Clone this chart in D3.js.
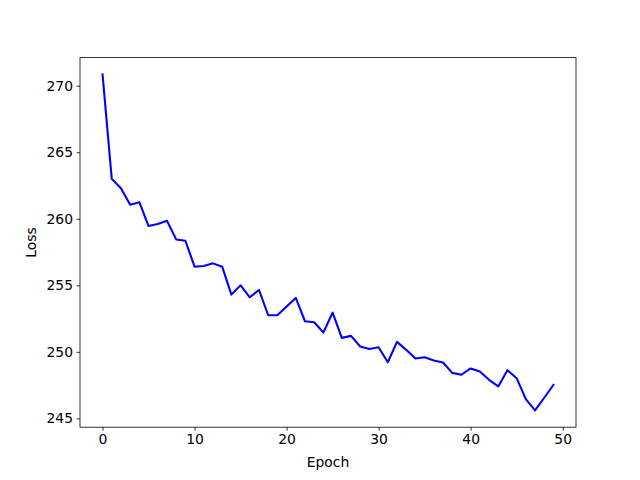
<!DOCTYPE html>
<html>
<head>
<meta charset="utf-8">
<script src="https://cdn.jsdelivr.net/npm/d3@7"></script>
<style>
  body { margin: 0; background: #fff; }
  text { font-family: "DejaVu Sans", sans-serif; }
</style>
</head>
<body>
<div id="chart"></div>
<script>
// loss per epoch
let epochs = d3.range(50);
let loss = [
    270.85, 263.0, 262.3, 261.05, 261.25, 259.45, 259.6, 259.85, 258.45, 258.35,
    256.4, 256.45, 256.65, 256.4, 254.3, 255.0, 254.1, 254.65, 252.75, 252.75,
    253.4, 254.05, 252.3, 252.22, 251.45, 252.95, 251.05, 251.2, 250.4, 250.22,
    250.35, 249.22, 250.75, 250.15, 249.5, 249.6, 249.35, 249.2, 248.42, 248.28,
    248.75, 248.52, 247.9, 247.4, 248.62, 248.02, 246.45, 245.6, 246.55, 247.52
];
let xTicks = [0, 10, 20, 30, 40, 50];
let yTicks = [245, 250, 255, 260, 265, 270];

let width = 640, height = 480;
let margin = {top: 57.6, right: 64, bottom: 52.8, left: 80};

let svg = d3.select("#chart").append("svg")
    .attr("width", width)
    .attr("height", height);

// matplotlib style 5% padding around data
let xPad = (d3.max(epochs) - d3.min(epochs)) * 0.05;
let yPad = (d3.max(loss) - d3.min(loss)) * 0.05;

let xScale = d3.scaleLinear()
    .domain([d3.min(epochs) - xPad, d3.max(epochs) + xPad])
    .range([margin.left, width - margin.right]);
let yScale = d3.scaleLinear()
    .domain([d3.min(loss) - yPad, d3.max(loss) + yPad])
    .range([height - margin.bottom, margin.top]);

let xAxis = d3.axisBottom(xScale).tickValues(xTicks).tickSize(3.5).tickPadding(3.5).tickFormat(d3.format("d"));
let yAxis = d3.axisLeft(yScale).tickValues(yTicks).tickSize(3.5).tickPadding(3.5).tickFormat(d3.format("d"));

let xAx = svg.append("g")
    .attr("transform", "translate(0," + (height - margin.bottom) + ")")
    .call(xAxis);
let yAx = svg.append("g")
    .attr("transform", "translate(" + margin.left + ",0)")
    .call(yAxis);

[xAx, yAx].forEach(g => {
    g.select(".domain").remove();
    g.selectAll(".tick line").attr("stroke", "#000").attr("stroke-width", 0.8);
    g.selectAll(".tick text").attr("fill", "#000").style("font-size", "13.9px")
        .style("font-family", "'DejaVu Sans', sans-serif");
});

// frame
svg.append("rect")
    .attr("x", margin.left)
    .attr("y", margin.top)
    .attr("width", width - margin.left - margin.right)
    .attr("height", height - margin.top - margin.bottom)
    .attr("fill", "none")
    .attr("stroke", "#000")
    .attr("stroke-width", 0.8);

let line = d3.line()
    .x((d, i) => xScale(epochs[i]))
    .y(d => yScale(d));

svg.append("path")
    .datum(loss)
    .attr("d", line)
    .attr("fill", "none")
    .attr("stroke", "#0000ff")
    .attr("stroke-width", 2.08)
    .attr("stroke-linejoin", "round")
    .attr("stroke-linecap", "square");

svg.append("text")
    .text("Epoch")
    .attr("x", (margin.left + width - margin.right) / 2)
    .attr("y", 467)
    .style("text-anchor", "middle")
    .style("font-size", "13.9px");

svg.append("text")
    .text("Loss")
    .style("text-anchor", "middle")
    .style("font-size", "13.9px")
    .attr("transform", "translate(" + 36 + "," + ((margin.top + height - margin.bottom) / 2) + ") rotate(-90)");
</script>
</body>
</html>
